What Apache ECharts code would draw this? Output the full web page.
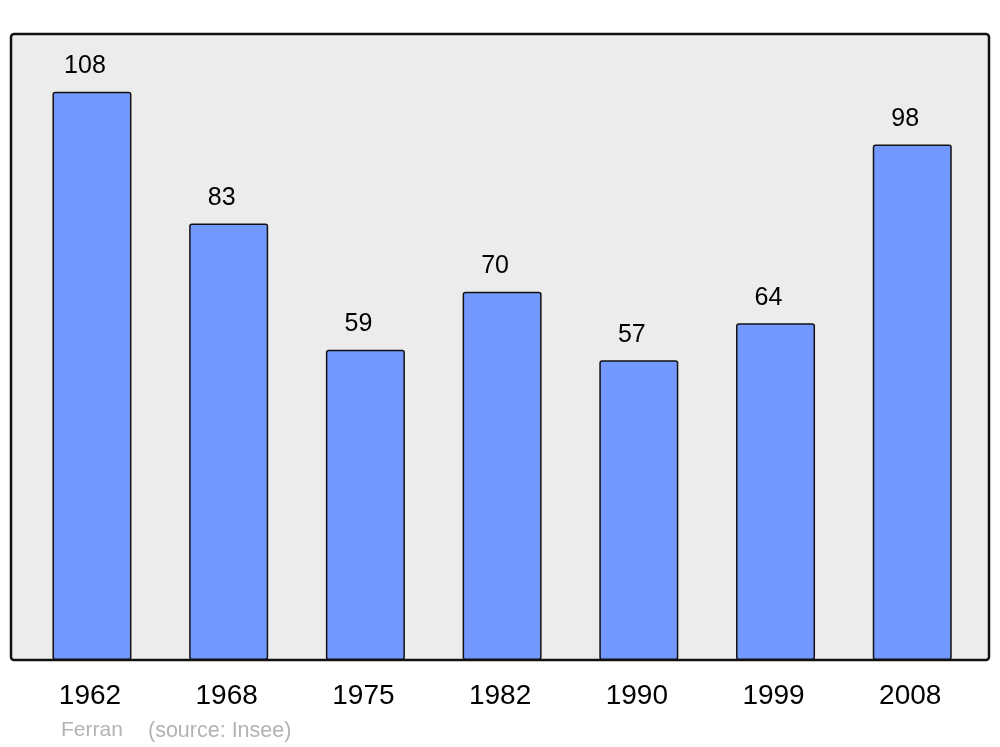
<!DOCTYPE html>
<html><head><meta charset="utf-8">
<script src="https://cdn.jsdelivr.net/npm/echarts@6/dist/echarts.min.js"></script>
<style>html,body{margin:0;padding:0;background:#fff}#c{width:1000px;height:747px}</style>
</head><body><div id="c"></div>
<script>
const years = ['1962','1968','1975','1982','1990','1999','2008'];
const population = [108, 83, 59, 70, 57, 64, 98];
const sourceLabel = 'Ferran';
const sourceNote = '(source: Insee)';

const chart = echarts.init(document.getElementById('c'), null, {renderer:'canvas'});
chart.setOption({
  animation: false,
  graphic: [
    {type:'rect', z:-10, shape:{x:11,y:34,width:978,height:626,r:3},
     style:{fill:'#ececec', stroke:'#111', lineWidth:2.5}},
    {type:'text', left:61, top:720, style:{text:sourceLabel, fill:'#b3b3b3', font:'21px "Liberation Sans", Arial, sans-serif'}},
    {type:'text', left:148, top:720, style:{text:sourceNote, fill:'#b3b3b3', font:'21.5px "Liberation Sans", Arial, sans-serif'}}
  ],
  grid: {left:23.6, right:19.4, top:34, bottom:87},
  xAxis: {type:'category', data:years,
    axisLine:{show:false}, axisTick:{show:false},
    axisLabel:{color:'#000', fontSize:28, fontFamily:'Liberation Sans', margin:22, padding:[0,4,0,0]}},
  yAxis: {type:'value', min:0, max:119, show:false, splitLine:{show:false}},
  series: [{type:'bar', data:population, barWidth:79,
    itemStyle:{color:'#7399ff', borderColor:'#111', borderWidth:1.5, borderRadius:2},
    label:{show:true, position:'top', distance:13, offset:[-7,0], color:'#000', fontSize:25, fontFamily:'Liberation Sans'}}]
});
</script></body></html>
